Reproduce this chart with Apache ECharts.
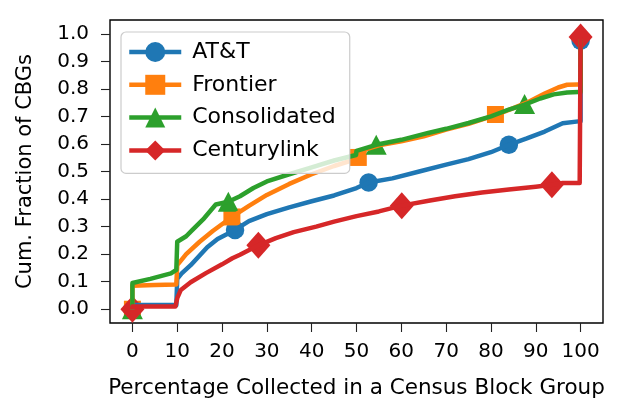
<!DOCTYPE html>
<html>
<head>
<meta charset="utf-8">
<script src="https://cdn.jsdelivr.net/npm/echarts@6/dist/echarts.min.js"></script>
<style>
  html, body { margin: 0; padding: 0; background: #fff; }
  #chart { width: 624px; height: 419px; }
</style>
</head>
<body>
<div id="chart"></div>
<script>
// tick labels
const xTicks = [0, 10, 20, 30, 40, 50, 60, 70, 80, 90, 100];
const yTicks = [0, 0.1, 0.2, 0.3, 0.4, 0.5, 0.6, 0.7, 0.8, 0.9, 1.0];

const providers = ["AT&T", "Frontier", "Consolidated", "Centurylink"];

// CDF curves, [percentage collected, cumulative fraction]
const attCurve = [
  [0, 0], [0, 0.015], [9.8, 0.015], [10, 0.11], [11, 0.13], [13, 0.16], [16.7, 0.225],
  [19, 0.255], [22.9, 0.288], [26, 0.32], [30, 0.345], [35, 0.37], [40, 0.392],
  [45, 0.413], [50, 0.44], [52.7, 0.46], [58, 0.475], [64, 0.5],
  [70, 0.525], [75, 0.545], [80, 0.57], [84, 0.597], [88, 0.62], [92, 0.645],
  [96, 0.675], [99.5, 0.682], [100, 0.682], [100, 0.977]
];
const frontierCurve = [
  [0, 0], [0, 0.085], [5, 0.088], [9.8, 0.09], [10, 0.16], [12, 0.2], [15, 0.245],
  [18, 0.285], [22.2, 0.335], [26, 0.375], [30, 0.415], [35, 0.455], [40, 0.49],
  [45, 0.52], [49.9, 0.545], [50, 0.57], [55, 0.595], [60, 0.61], [65, 0.628],
  [70, 0.652], [75, 0.673], [81, 0.705], [85, 0.73], [88, 0.75], [92, 0.783],
  [95, 0.805], [97, 0.815], [99.5, 0.816], [100, 0.816], [100, 0.98]
];
const consolidatedCurve = [
  [0, 0], [0, 0.095], [4, 0.11], [8.6, 0.13], [9.8, 0.143], [10, 0.245], [12, 0.265],
  [13.4, 0.288], [16, 0.33], [18.6, 0.38], [21.4, 0.39], [24, 0.41], [27, 0.44],
  [30, 0.464], [35, 0.49], [40, 0.515], [45, 0.54], [49.9, 0.56], [50, 0.575],
  [54.4, 0.597], [60, 0.615], [66, 0.64], [70, 0.655], [75, 0.676], [80, 0.7],
  [84, 0.725], [87.5, 0.743], [91, 0.765], [94, 0.78], [97, 0.787], [99.5, 0.789],
  [100, 0.789], [100, 0.98]
];
const centurylinkCurve = [
  [0, 0], [0, 0.01], [9.6, 0.01], [10, 0.04], [10.8, 0.07], [13, 0.098], [16.4, 0.131],
  [20, 0.163], [22.3, 0.185], [24, 0.198], [28.1, 0.232], [32, 0.258], [36, 0.28],
  [41, 0.3], [45, 0.318], [50, 0.338], [55, 0.355], [60.1, 0.376], [66.4, 0.395],
  [72, 0.41], [78, 0.424], [84, 0.435], [90, 0.445], [93.6, 0.452], [96, 0.458],
  [99.8, 0.458], [100, 0.458], [100, 0.988]
];

// marker positions along each curve
const attMarks = [[0, 0], [22.9, 0.288], [52.7, 0.46], [84, 0.597], [100, 0.975]];
const frontierMarks = [[0, 0], [22.2, 0.335], [50.4, 0.551], [81, 0.707]];
const consolidatedMarks = [[0, 0], [21.4, 0.39], [54.4, 0.597], [87.5, 0.745]];
const centurylinkMarks = [[0, 0], [28.1, 0.232], [60.1, 0.376], [93.6, 0.452], [100, 0.988]];

const colors = ["#1f77b4", "#ff7f0e", "#2ca02c", "#d62728"];
const symbols = ["circle", "rect", "triangle", "diamond"];
const symbolSizes = [18.5, 17, [21, 20], [24, 27]];
const curves = [attCurve, frontierCurve, consolidatedCurve, centurylinkCurve];
const marks = [attMarks, frontierMarks, consolidatedMarks, centurylinkMarks];

const FONT = "DejaVu Sans";

const series = [];
providers.forEach((name, i) => {
  series.push({
    name: name,
    type: "line",
    data: curves[i],
    showSymbol: false,
    symbol: symbols[i],
    color: colors[i],
    lineStyle: { width: 4.5, color: colors[i], join: "round" },
    itemStyle: { color: colors[i] },
    silent: true,
    animation: false
  });
  series.push({
    name: name,
    type: "scatter",
    data: marks[i],
    symbol: symbols[i],
    symbolSize: symbolSizes[i],
    itemStyle: { color: colors[i], opacity: 1 },
    silent: true,
    animation: false
  });
});

const chart = echarts.init(document.getElementById("chart"), null, { renderer: "canvas" });
chart.setOption({
  animation: false,
  grid: {
    left: 110, right: 21, top: 20, bottom: 96,
    show: true, borderColor: "#000", borderWidth: 1.4, backgroundColor: "transparent"
  },
  legend: {
    orient: "vertical",
    left: 121, top: 32,
    data: providers,
    itemWidth: 52, itemHeight: 25, itemGap: 10.8,
    padding: [9, 14, 12, 6],
    backgroundColor: "rgba(255,255,255,0.8)",
    borderColor: "#cccccc", borderWidth: 1.2, borderRadius: 5,
    lineStyle: { width: 4.5 },
    selectedMode: false,
    textStyle: { fontFamily: FONT, fontSize: 22, color: "#000", padding: [0, 0, 0, 6] }
  },
  xAxis: {
    type: "value",
    min: -5, max: 105,
    name: "Percentage Collected in a Census Block Group",
    nameLocation: "middle", nameGap: 54,
    nameTextStyle: { fontFamily: FONT, fontSize: 21.5, color: "#000" },
    axisLine: { show: false, onZero: false },
    axisTick: { show: true, length: 9, customValues: xTicks, lineStyle: { color: "#222", width: 1.1 } },
    axisLabel: { customValues: xTicks, margin: 19, fontFamily: FONT, fontSize: 20, color: "#000" },
    splitLine: { show: false }
  },
  yAxis: {
    type: "value",
    min: -0.05, max: 1.05,
    name: "Cum. Fraction of CBGs",
    nameLocation: "middle", nameGap: 74,
    nameTextStyle: { fontFamily: FONT, fontSize: 21, color: "#000" },
    axisLine: { show: false, onZero: false },
    axisTick: { show: true, length: 9, customValues: yTicks, lineStyle: { color: "#222", width: 1.1 } },
    axisLabel: {
      customValues: yTicks, margin: 21, fontFamily: FONT, fontSize: 20, color: "#000",
      formatter: (v) => v.toFixed(1)
    },
    splitLine: { show: false }
  },
  series: series
});
</script>
</body>
</html>
